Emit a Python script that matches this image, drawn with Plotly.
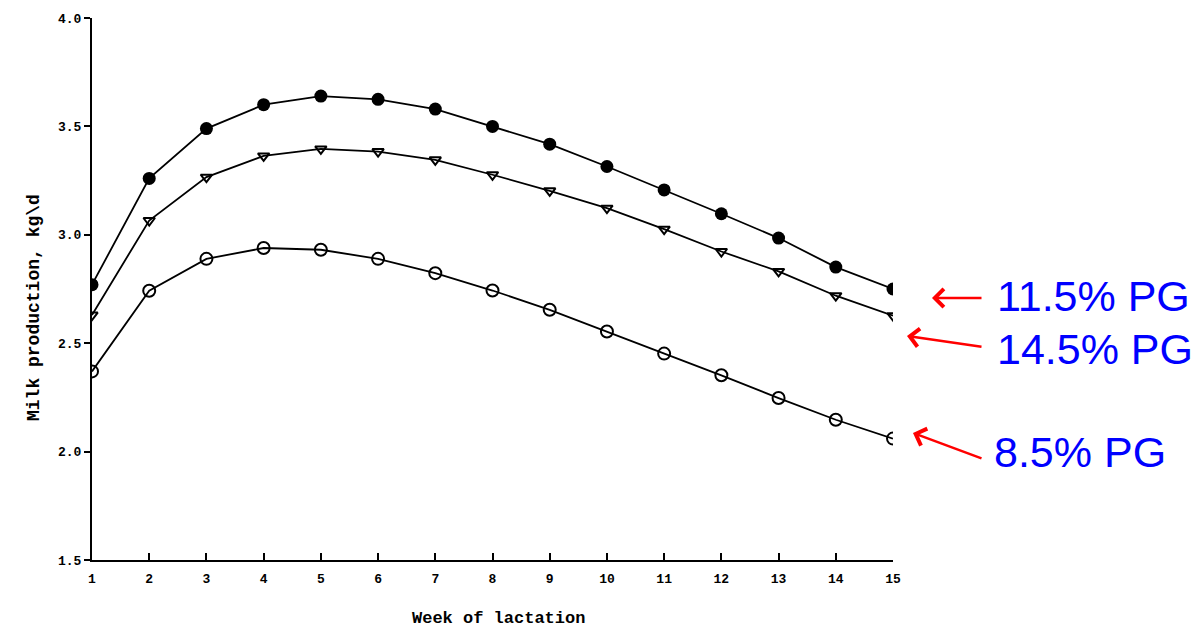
import plotly.graph_objects as go

weeks = list(range(1, 16))
pg_11_5 = [2.77, 3.26, 3.49, 3.60, 3.64, 3.625, 3.58, 3.50, 3.418, 3.315, 3.207, 3.097, 2.985, 2.851, 2.75]
pg_14_5 = [2.63, 3.066, 3.266, 3.364, 3.396, 3.384, 3.346, 3.277, 3.203, 3.123, 3.026, 2.923, 2.831, 2.719, 2.627]
pg_8_5 = [2.37, 2.742, 2.889, 2.939, 2.931, 2.889, 2.823, 2.743, 2.654, 2.554, 2.452, 2.352, 2.247, 2.147, 2.06]
y_ticks = [1.5, 2.0, 2.5, 3.0, 3.5, 4.0]
y_tick_text = ["1.5", "2.0", "2.5", "3.0", "3.5", "4.0"]
labels = ["11.5% PG", "14.5% PG", "8.5% PG"]

W, H = 1199, 629
L, R, T, B = 92, 306, 18, 69
pw, ph = W - L - R, H - T - B

def px(x):
    return (x - L) / pw

def py(y):
    return (H - B - y) / ph

fig = go.Figure()
fig.add_trace(go.Scatter(x=weeks, y=pg_8_5, mode="lines+markers", name=labels[2],
                         line=dict(color="black", width=1.8),
                         marker=dict(symbol="circle-open", size=12, color="black", line=dict(width=2))))
fig.add_trace(go.Scatter(x=weeks, y=pg_14_5, mode="lines+markers", name=labels[1],
                         line=dict(color="black", width=1.8),
                         marker=dict(symbol="triangle-down-open", size=10, color="black", line=dict(width=2))))
fig.add_trace(go.Scatter(x=weeks, y=pg_11_5, mode="lines+markers", name=labels[0],
                         line=dict(color="black", width=1.8),
                         marker=dict(symbol="circle", size=13, color="black")))

tickfont = dict(family="Liberation Mono", size=13, color="black", weight="bold")
fig.update_xaxes(range=[1, 15], tickvals=weeks, ticktext=[str(w) for w in weeks],
                 showline=True, linecolor="black", linewidth=2, ticks="inside", ticklen=7,
                 tickwidth=1.5, tickcolor="black", showgrid=False, zeroline=False, tickfont=tickfont,
                 ticklabelstandoff=5)
fig.update_yaxes(range=[1.5, 4.0], tickvals=y_ticks, ticktext=y_tick_text,
                 showline=True, linecolor="black", linewidth=2, ticks="outside", ticklen=6,
                 tickwidth=1.5, tickcolor="black", showgrid=False, zeroline=False, tickfont=tickfont)

annotations = [
    dict(text="Week of lactation", xref="paper", yref="paper", x=px(498), y=py(618),
         xanchor="center", yanchor="middle", showarrow=False,
         font=dict(family="Liberation Mono", size=17, color="black", weight="bold")),
    dict(text="Milk production, kg\\d", xref="paper", yref="paper", x=px(34), y=py(308),
         xanchor="center", yanchor="middle", textangle=-90, showarrow=False,
         font=dict(family="Liberation Mono", size=18, color="black", weight="bold")),
]
text_pos = [(995, 296), (995, 349), (992, 452)]
for lab, (tx, ty) in zip(labels, text_pos):
    annotations.append(dict(text=lab, xref="paper", yref="paper", x=px(tx), y=py(ty),
                            xanchor="left", yanchor="middle", showarrow=False,
                            font=dict(family="Liberation Sans", size=43, color="#0000FF")))
arrows = [((932, 298), (983, 298)), ((907, 336), (983, 347)), ((913, 433), (983, 459))]
for (hx, hy), (tx, ty) in arrows:
    annotations.append(dict(text="", xref="paper", yref="paper", x=px(hx), y=py(hy),
                            ax=tx - hx, ay=ty - hy, showarrow=True, arrowhead=4,
                            arrowsize=1.4, arrowwidth=2.5, arrowcolor="red", standoff=0))

fig.update_layout(width=W, height=H, margin=dict(l=L, r=R, t=T, b=B),
                  plot_bgcolor="white", paper_bgcolor="white", showlegend=False,
                  annotations=annotations)
fig.write_html("out.html")
